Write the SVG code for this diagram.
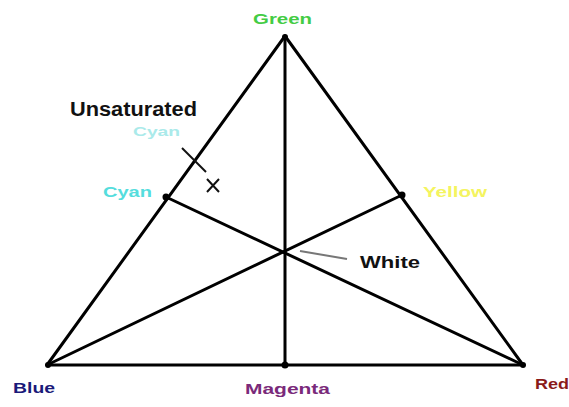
<svg xmlns="http://www.w3.org/2000/svg" width="569" height="407" viewBox="0 0 569 407">
<style>
.ln{stroke:#000;stroke-width:3;fill:none;stroke-linecap:round}
.thin{stroke:#111;stroke-width:2;fill:none}
.lbl{font-family:"Liberation Sans",Arial,sans-serif;font-weight:bold}
.dot{fill:#000}
</style>
<rect width="569" height="407" fill="#fff"/>
<g id="connectors">
<polygon class="ln" points="285,36 47,365 523,365" stroke-linejoin="round"/>
<line class="ln" x1="285" y1="36" x2="285" y2="365"/>
<line class="ln" x1="166" y1="197" x2="523" y2="365"/>
<line class="ln" x1="402" y1="195" x2="47" y2="365"/>
<line class="thin" x1="182" y1="148" x2="206" y2="172"/>
<line x1="300" y1="251" x2="347" y2="259" stroke="#777" stroke-width="2"/>
</g>
<g id="green"><circle class="dot" cx="285" cy="37" r="3"/><text class="lbl" x="253" y="24" font-size="14" fill="#44cc44" textLength="59" lengthAdjust="spacingAndGlyphs">Green</text></g>
<g id="blue"><circle class="dot" cx="48" cy="365" r="3"/><text class="lbl" x="13" y="393" font-size="15" fill="#1a1a7a" textLength="42" lengthAdjust="spacingAndGlyphs">Blue</text></g>
<g id="red"><circle class="dot" cx="523" cy="365" r="3"/><text class="lbl" x="535" y="389" font-size="15" fill="#8a1a1a" textLength="34" lengthAdjust="spacingAndGlyphs">Red</text></g>
<g id="magenta"><circle class="dot" cx="285" cy="365" r="3.5"/><text class="lbl" x="245" y="394" font-size="15" fill="#7a2a7a" textLength="85" lengthAdjust="spacingAndGlyphs">Magenta</text></g>
<g id="cyan"><circle class="dot" cx="166" cy="197" r="3.5"/><text class="lbl" x="103" y="197" font-size="14" fill="#55dddd" textLength="49" lengthAdjust="spacingAndGlyphs">Cyan</text></g>
<g id="yellow"><circle class="dot" cx="402" cy="195" r="3.5"/><text class="lbl" x="423" y="197" font-size="14" fill="#f4f460" textLength="64" lengthAdjust="spacingAndGlyphs">Yellow</text></g>
<g id="white"><text class="lbl" x="360" y="268" font-size="17" fill="#111" textLength="60" lengthAdjust="spacingAndGlyphs">White</text></g>
<g id="unsaturated-cyan">
<text class="lbl" x="70" y="116" font-size="20" fill="#111" textLength="127" lengthAdjust="spacingAndGlyphs">Unsaturated</text>
<text class="lbl" x="133" y="136" font-size="13" fill="#aaeaea" textLength="47" lengthAdjust="spacingAndGlyphs">Cyan</text>
<path class="thin" d="M207,179 L219,192 M219,179 L207,192"/>
</g>
</svg>
